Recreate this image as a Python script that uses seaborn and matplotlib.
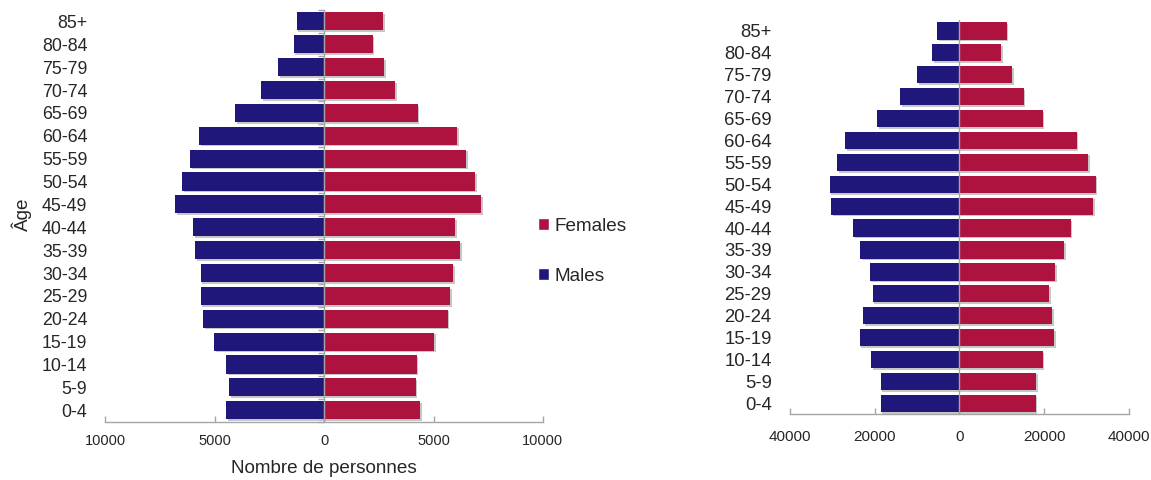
import numpy as np
import pandas as pd
import matplotlib
matplotlib.use("Agg")
import matplotlib.pyplot as plt
import matplotlib.patheffects as pe
from matplotlib.patches import Patch
from matplotlib.ticker import FuncFormatter
import seaborn as sns

# ---------------- data ----------------
ages = ["85+", "80-84", "75-79", "70-74", "65-69", "60-64", "55-59", "50-54", "45-49",
        "40-44", "35-39", "30-34", "25-29", "20-24", "15-19", "10-14", "5-9", "0-4"]

males_left = [1260, 1390, 2090, 2890, 4070, 5700, 6130, 6500, 6810,
              6000, 5900, 5640, 5640, 5540, 5030, 4490, 4350, 4480]
females_left = [2710, 2210, 2750, 3250, 4270, 6080, 6500, 6900, 7170,
                6000, 6230, 5900, 5750, 5640, 5020, 4230, 4180, 4380]

males_right = [5270, 6450, 9980, 13990, 19340, 26880, 28850, 30580, 30180,
               25000, 23340, 21140, 20440, 22640, 23500, 20750, 18550, 18550]
females_right = [11160, 9830, 12500, 15170, 19650, 27670, 30420, 32150, 31600,
                 26250, 24760, 22560, 21220, 21850, 22320, 19650, 18080, 18000]

left_xticks = [-10000, -5000, 0, 5000, 10000]
right_xticks = [-40000, -20000, 0, 20000, 40000]

label_females = "Females"
label_males = "Males"
xlabel_left = "Nombre de personnes"
ylabel_left = "Âge"

# ---------------- style ----------------
sns.set_style("white")
plt.rcParams["font.family"] = ["Liberation Sans", "DejaVu Sans"]

MALE = "#1f177a"
FEMALE = "#ae123f"
GRAY = "#a6a6a6"
TXT = "#262626"

fig = plt.figure(figsize=(11.51, 4.80), dpi=100)
axL = fig.add_axes([0.0916, 0.1215, 0.3801, 0.8577])
axR = fig.add_axes([0.6861, 0.1369, 0.2948, 0.8215])

shadow = [pe.SimplePatchShadow(offset=(1.2, -1.2), shadow_rgbFace="#000000", alpha=0.22), pe.Normal()]


def pyramid(ax, males, females, xticks, boundary_ticks, ylabsize, xlabsize, xpad):
    dfm = pd.DataFrame({"age": ages, "value": [-v for v in males]})
    dff = pd.DataFrame({"age": ages, "value": females})
    sns.barplot(data=dfm, x="value", y="age", order=ages, color=MALE, orient="h",
                width=0.79, saturation=1, ax=ax, edgecolor="none")
    sns.barplot(data=dff, x="value", y="age", order=ages, color=FEMALE, orient="h",
                width=0.79, saturation=1, ax=ax, edgecolor="none")
    for p in ax.patches:
        p.set_path_effects(shadow)
    ax.set_xlim(xticks[0], xticks[-1])
    ax.set_ylim(len(ages) - 0.5, -0.5)
    ax.set_xticks(xticks)
    ax.xaxis.set_major_formatter(FuncFormatter(lambda v, pos: f"{abs(int(v))}"))
    for s in ["top", "right", "left"]:
        ax.spines[s].set_visible(False)
    ax.spines["bottom"].set_color(GRAY)
    ax.spines["bottom"].set_linewidth(1.0)
    ax.tick_params(axis="x", direction="in", length=4, width=1, color=GRAY,
                   labelsize=xlabsize, labelcolor=TXT, pad=xpad, bottom=True)
    ax.tick_params(axis="y", length=0, labelsize=ylabsize, labelcolor=TXT, pad=13, left=False)
    ax.set_xlabel("")
    ax.set_ylabel("")
    ax.axvline(0, color=GRAY, lw=1.0, zorder=3)
    if boundary_ticks:
        ax2 = ax.twinx()
        ax2.set_ylim(ax.get_ylim())
        ax2.spines["right"].set_position(("data", 0))
        ax2.spines["right"].set_color(GRAY)
        for s in ["top", "left", "bottom"]:
            ax2.spines[s].set_visible(False)
        ax2.set_yticks(np.arange(-0.5, len(ages), 1.0))
        ax2.tick_params(axis="y", direction="in", length=4, width=1, color=GRAY,
                        labelright=False)
        ax2.grid(False)


pyramid(axL, males_left, females_left, left_xticks, True, 12.8, 10.5, 9)
pyramid(axR, males_right, females_right, right_xticks, False, 13.3, 11, 11.5)

axL.set_xlabel(xlabel_left, fontsize=13.6, color=TXT)
axL.xaxis.set_label_coords(0.5, -0.093)
axL.set_ylabel(ylabel_left, fontsize=13.6, color=TXT)
axL.yaxis.set_label_coords(-0.168, 0.505)

handles = [Patch(facecolor=FEMALE, label=label_females),
           Patch(facecolor=MALE, label=label_males)]
fig.legend(handles=handles, loc="center left", bbox_to_anchor=(0.4674, 0.476),
           frameon=False, fontsize=13.6, handlelength=0.6, handleheight=0.6,
           handletextpad=0.25, labelspacing=1.75, borderpad=0, borderaxespad=0,
           labelcolor=TXT)

fig.savefig("out.png", dpi=100)
